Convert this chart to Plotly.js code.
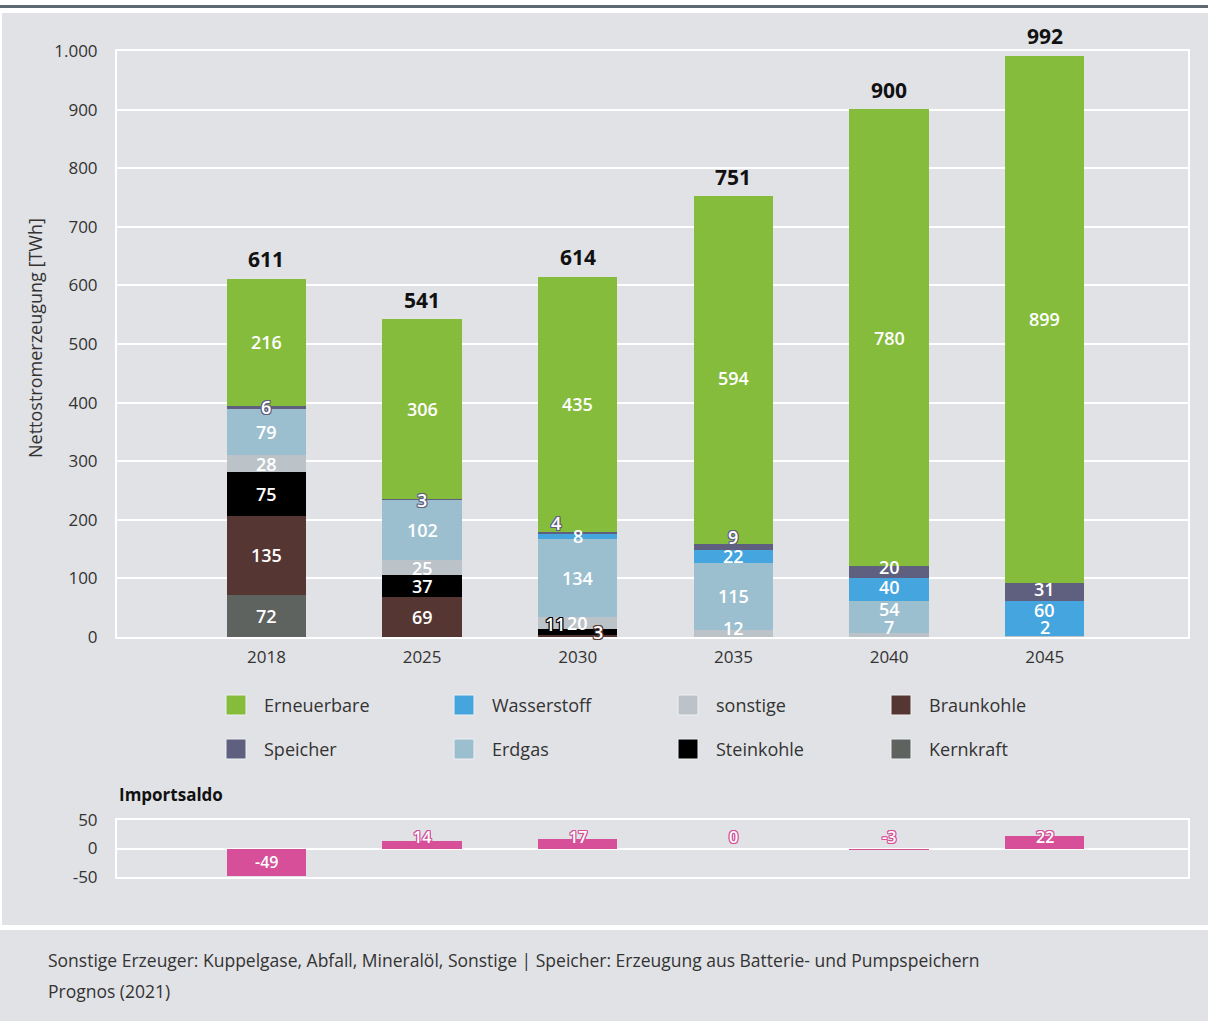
<!DOCTYPE html>
<html>
<head>
<meta charset="utf-8">
<script src="https://cdn.plot.ly/plotly-3.0.1.min.js"></script>
<style>
  html, body { margin:0; padding:0; background:#ffffff; width:1208px; height:1021px; overflow:hidden; }
  #topline { position:absolute; left:0; top:5px; width:1208px; height:3px; background:#5d6871; }
  #panel { position:absolute; left:2px; top:13px; width:1206px; height:912px; background:#e1e2e6; }
  #footer { position:absolute; left:0; top:930px; width:1208px; height:91px; background:#e1e2e6; }
  #chart { position:absolute; left:0; top:0; width:1208px; height:1021px; }
</style>
</head>
<body>
<div id="topline"></div>
<div id="panel"></div>
<div id="footer"></div>
<div id="chart"></div>
<script>
// ---------------- data ----------------
const years       = ['2018', '2025', '2030', '2035', '2040', '2045'];
const kernkraft   = [72, 0, 0, 0, 0, 0];
const braunkohle  = [135, 69, 3, 0, 0, 0];
const steinkohle  = [75, 37, 11, 0, 0, 0];
const sonstige    = [28, 25, 20, 12, 7, 2];
const erdgas      = [79, 102, 134, 115, 54, 0];
const wasserstoff = [0, 0, 8, 22, 40, 60];
const speicher    = [6, 3, 4, 9, 20, 31];
const erneuerbare = [216, 306, 435, 594, 780, 899];
const totals      = [611, 541, 614, 751, 900, 992];
const importsaldo = [-49, 14, 17, 0, -3, 22];

const yTickVals   = [0, 100, 200, 300, 400, 500, 600, 700, 800, 900, 1000];
const yTickText   = ['0', '100', '200', '300', '400', '500', '600', '700', '800', '900', '1.000'];
const y2TickVals  = [-50, 0, 50];
const y2TickText  = ['-50', '0', '50'];

const footnote1 = 'Sonstige Erzeuger: Kuppelgase, Abfall, Mineralöl, Sonstige | Speicher: Erzeugung aus Batterie- und Pumpspeichern';
const footnote2 = 'Prognos (2021)';

// ---------------- styles ----------------
const FONT = 'Open Sans, Noto Sans, sans-serif';
const TXT = '#333333';
const BG = '#e1e2e6';
const series = [
  { name: 'Kernkraft',   values: kernkraft,   color: '#5f6360', outline: false },
  { name: 'Braunkohle',  values: braunkohle,  color: '#553632', outline: true },
  { name: 'Steinkohle',  values: steinkohle,  color: '#000000', outline: true },
  { name: 'sonstige',    values: sonstige,    color: '#bcc3c8', outline: false },
  { name: 'Erdgas',      values: erdgas,      color: '#9cbfcf', outline: false },
  { name: 'Wasserstoff', values: wasserstoff, color: '#45a5df', outline: false },
  { name: 'Speicher',    values: speicher,    color: '#5f5f80', outline: true },
  { name: 'Erneuerbare', values: erneuerbare, color: '#86bc3b', outline: false }
];
const legendOrder = [
  ['Erneuerbare', 'Wasserstoff', 'sonstige', 'Braunkohle'],
  ['Speicher', 'Erdgas', 'Steinkohle', 'Kernkraft']
];
const importColor = '#d64f98';
// label nudges [xshift, yshift] in px for crowded segments
const nudges = {
  '2030|Braunkohle': [20, 4],
  '2030|Steinkohle': [-22, 8],
  '2030|Speicher': [-22, 10],
  '2035|sonstige': [0, 5],
  '2035|Speicher': [0, 10],
  '2035|Erneuerbare': [0, -8],
  '2040|sonstige': [0, 8],
  '2040|Erdgas': [0, 8],
  '2040|Wasserstoff': [0, 3],
  '2040|Speicher': [0, 5],
  '2045|sonstige': [0, 9],
  '2045|Wasserstoff': [0, 8],
  '2045|Speicher': [0, 3]
};

// pixel -> paper helpers (plot area: x 117..1188, y 51..877)
const L = 117, R = 20, T = 51, B = 144, W = 1208, H = 1021;
const PW = W - L - R, PH = H - T - B;
const px = v => (v - L) / PW;
const py = v => (H - B - v) / PH;

function outline(c) {
  return `1px 1px 0 ${c}, -1px -1px 0 ${c}, 1px -1px 0 ${c}, -1px 1px 0 ${c}, 0 1px 0 ${c}, 0 -1px 0 ${c}, 1px 0 0 ${c}, -1px 0 0 ${c}`;
}

const BARW = 0.51;
const traces = series.map(s => ({
  type: 'bar', x: years, y: s.values, name: s.name,
  marker: { color: s.color, line: { width: 0 } },
  width: BARW, showlegend: false, hoverinfo: 'skip',
  xaxis: 'x', yaxis: 'y'
}));
traces.push({
  type: 'bar', x: years, y: importsaldo, name: 'Importsaldo',
  marker: { color: importColor, line: { width: 0 } },
  width: BARW, showlegend: false, hoverinfo: 'skip',
  xaxis: 'x2', yaxis: 'y2'
});

const annotations = [];
const shapes = [];

// segment labels
years.forEach((yr, i) => {
  let cum = 0;
  series.forEach(s => {
    const v = s.values[i];
    if (v > 0) {
      const n = nudges[yr + '|' + s.name] || [0, 0];
      const small = s.outline && v < 15;
      const f = { family: FONT, size: 18, color: '#ffffff', weight: 600 };
      if (small) f.shadow = outline(s.color);
      annotations.push({
        x: i, y: cum + v / 2, xref: 'x', yref: 'y', text: String(v), showarrow: false,
        xshift: n[0], yshift: n[1], font: f
      });
    }
    cum += v;
  });
  // totals
  annotations.push({
    x: i, y: totals[i], xref: 'x', yref: 'y', text: String(totals[i]), showarrow: false,
    yanchor: 'bottom', yshift: 4,
    font: { family: FONT, size: 21, color: '#111111', weight: 700 }
  });
  // import labels
  const iv = importsaldo[i];
  const big = iv < -5;
  const fi = { family: FONT, size: 16, color: '#ffffff', weight: 600 };
  if (!big) fi.shadow = outline(importColor);
  annotations.push({
    x: i, y: big ? iv / 2 : 0, xref: 'x2', yref: 'y2', text: String(iv), showarrow: false,
    yanchor: big ? 'middle' : 'bottom', yshift: big ? 0 : -1, font: fi
  });
});

// legend (manual)
const legCols = [236, 464, 688, 901];
const legRows = [705, 749];
legendOrder.forEach((row, r) => {
  row.forEach((name, c) => {
    const s = series.find(t => t.name === name);
    const cx = legCols[c], cy = legRows[r];
    shapes.push({
      type: 'rect', xref: 'paper', yref: 'paper',
      x0: px(cx - 10), x1: px(cx + 10), y0: py(cy + 10), y1: py(cy - 10),
      fillcolor: s.color, line: { color: '#eef0f2', width: 1 }
    });
    annotations.push({
      x: px(cx + 26), y: py(cy), xref: 'paper', yref: 'paper', xanchor: 'left', yanchor: 'middle',
      text: name, showarrow: false, font: { family: FONT, size: 18, color: TXT }
    });
  });
});

// titles & footnotes
annotations.push({
  x: px(35), y: py(338), xref: 'paper', yref: 'paper', text: 'Nettostromerzeugung [TWh]',
  textangle: -90, showarrow: false, xanchor: 'center', yanchor: 'middle',
  font: { family: FONT, size: 18, color: TXT }
});
annotations.push({
  x: px(117), y: py(794), xref: 'paper', yref: 'paper', text: 'Importsaldo',
  showarrow: false, xanchor: 'left', yanchor: 'middle',
  font: { family: FONT, size: 17, color: '#111111', weight: 700 }
});
annotations.push({
  x: px(46), y: py(960), xref: 'paper', yref: 'paper', text: footnote1,
  showarrow: false, xanchor: 'left', yanchor: 'middle',
  font: { family: FONT, size: 17.5, color: TXT }
});
annotations.push({
  x: px(46), y: py(991), xref: 'paper', yref: 'paper', text: footnote2,
  showarrow: false, xanchor: 'left', yanchor: 'middle',
  font: { family: FONT, size: 17.5, color: TXT }
});

const xr = [-0.96, 5.92];
const layout = {
  width: W, height: H,
  margin: { l: L, r: R, t: T, b: B, pad: 0 },
  paper_bgcolor: 'rgba(0,0,0,0)', plot_bgcolor: BG,
  barmode: 'relative', bargap: 0,
  showlegend: false,
  font: { family: FONT, color: TXT },
  xaxis: {
    type: 'category', range: xr, anchor: 'y', domain: [0, 1],
    showgrid: false, zeroline: false, showline: true, mirror: true, linecolor: '#ffffff', linewidth: 2,
    ticks: '', tickfont: { family: FONT, size: 17, color: TXT }, ticklabelstandoff: 4, fixedrange: true
  },
  yaxis: {
    domain: [py(637), 1], range: [0, 1000], anchor: 'x',
    tickvals: yTickVals, ticktext: yTickText,
    showgrid: true, gridcolor: '#ffffff', gridwidth: 2, zeroline: false,
    showline: true, mirror: true, linecolor: '#ffffff', linewidth: 2,
    ticks: '', tickfont: { family: FONT, size: 17, color: TXT }, ticklabelstandoff: 14, fixedrange: true
  },
  xaxis2: {
    type: 'category', range: xr, anchor: 'y2', domain: [0, 1],
    showgrid: false, zeroline: false, showline: true, mirror: true, linecolor: '#ffffff', linewidth: 2,
    showticklabels: false, ticks: '', fixedrange: true
  },
  yaxis2: {
    domain: [0, py(820)], range: [-50, 50], anchor: 'x2',
    tickvals: y2TickVals, ticktext: y2TickText,
    showgrid: true, gridcolor: '#ffffff', gridwidth: 2, zeroline: true, zerolinecolor: '#ffffff', zerolinewidth: 2,
    showline: true, mirror: true, linecolor: '#ffffff', linewidth: 2,
    ticks: '', tickfont: { family: FONT, size: 17, color: TXT }, ticklabelstandoff: 14, fixedrange: true
  },
  annotations: annotations,
  shapes: shapes
};

Plotly.newPlot('chart', traces, layout, { staticPlot: true, displayModeBar: false });
</script>
</body>
</html>
